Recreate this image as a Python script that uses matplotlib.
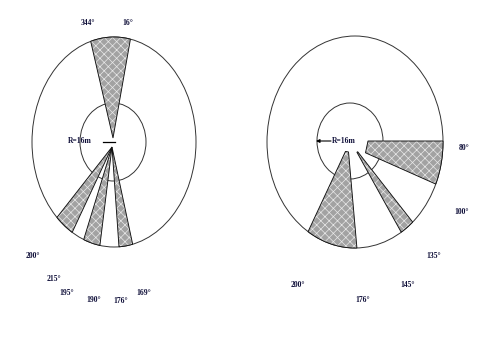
import numpy as np
import matplotlib
matplotlib.use("Agg")
import matplotlib.pyplot as plt
from matplotlib.patches import Ellipse, Polygon

# wedge spans (compass degrees, as drawn) and the bearing labels
left_spans = [(347, 370), (205, 218), (187, 197), (168, 176)]
left_labels = ["344°", "16°", "200°", "215°", "195°", "190°", "176°", "169°"]
right_spans = [(90, 114), (142, 151), (175, 205)]
right_labels = ["80°", "100°", "135°", "145°", "200°", "176°"]
radius_label = "R=16m"

# layout (pixels, y down)
left_outer = (114, 142, 82, 105)
left_inner = (113, 142, 33, 39)
left_apex = [(113, 138), (112, 147), (112, 147), (112, 147)]
left_r0 = [0, 0, 0, 0]
left_label_xy = [(88, 23), (128, 23), (33, 256), (54, 279), (67, 293),
                 (94, 300), (121, 301), (144, 293)]

right_outer = (355, 142, 88, 106)
right_inner = (350, 141, 33, 38)
right_apex = [(339, 141), (354, 147), (348, 146)]
right_r0 = [29, 6, 6]
right_label_xy = [(464, 148), (462, 212), (434, 256), (408, 285),
                  (298, 285), (363, 300)]

plt.rcParams['hatch.linewidth'] = 0.5


def ray_hit(ax_, ay_, th, ell):
    ex, ey, rx, ry = ell
    dx, dy = np.sin(np.radians(th)), -np.cos(np.radians(th))
    px, py = ax_ - ex, ay_ - ey
    a = (dx / rx) ** 2 + (dy / ry) ** 2
    b = 2 * (px * dx / rx ** 2 + py * dy / ry ** 2)
    c = (px / rx) ** 2 + (py / ry) ** 2 - 1
    t = (-b + np.sqrt(b * b - 4 * a * c)) / (2 * a)
    return ax_ + t * dx, ay_ + t * dy


def wedge(ax, apex, r0, span, ell):
    a0, a1 = span
    x0, y0 = apex
    pts = []
    for th in np.linspace(a0, a1, 30):
        pts.append(ray_hit(x0, y0, th, ell))
    for th in (a1, a0):
        pts.append((x0 + r0 * np.sin(np.radians(th)),
                    y0 - r0 * np.cos(np.radians(th))))
    ax.add_patch(Polygon(pts, closed=True, facecolor='#a2a2a2',
                         edgecolor='#e8e8e8', hatch='xxxx', lw=0, zorder=2))
    ax.add_patch(Polygon(pts, closed=True, fill=False,
                         edgecolor='#111111', lw=0.65, zorder=3))


fig = plt.figure(figsize=(4.84, 3.37), dpi=100)
ax = fig.add_axes([0, 0, 1, 1])
ax.set_xlim(0, 484)
ax.set_ylim(337, 0)
ax.axis('off')

for outer, inner in [(left_outer, left_inner), (right_outer, right_inner)]:
    ax.add_patch(Ellipse(outer[:2], 2 * outer[2], 2 * outer[3], fill=False,
                         edgecolor='#333333', lw=0.7, zorder=1))
    ax.add_patch(Ellipse(inner[:2], 2 * inner[2], 2 * inner[3], fill=False,
                         edgecolor='#333333', lw=0.7, zorder=1))

for span, apex, r0 in zip(left_spans, left_apex, left_r0):
    wedge(ax, apex, r0, span, left_outer)
for span, apex, r0 in zip(right_spans, right_apex, right_r0):
    wedge(ax, apex, r0, span, right_outer)

tk = dict(fontsize=5.5, family='Liberation Serif', fontweight='bold',
          ha='center', va='center', color='#10103a', zorder=4)
for s, (x, y) in zip(left_labels, left_label_xy):
    ax.text(x, y, s, **tk)
for s, (x, y) in zip(right_labels, right_label_xy):
    ax.text(x, y, s, **tk)

ax.text(80, 141, radius_label, **tk)
ax.plot([103, 115], [142, 142], color='black', lw=0.9, zorder=4)
ax.text(344, 141, radius_label, **tk)
ax.annotate("", xy=(316, 141), xytext=(331, 141),
            arrowprops=dict(arrowstyle='-|>', color='black', lw=0.8,
                            mutation_scale=5, shrinkA=0, shrinkB=0))

fig.savefig("out.png", dpi=100)
